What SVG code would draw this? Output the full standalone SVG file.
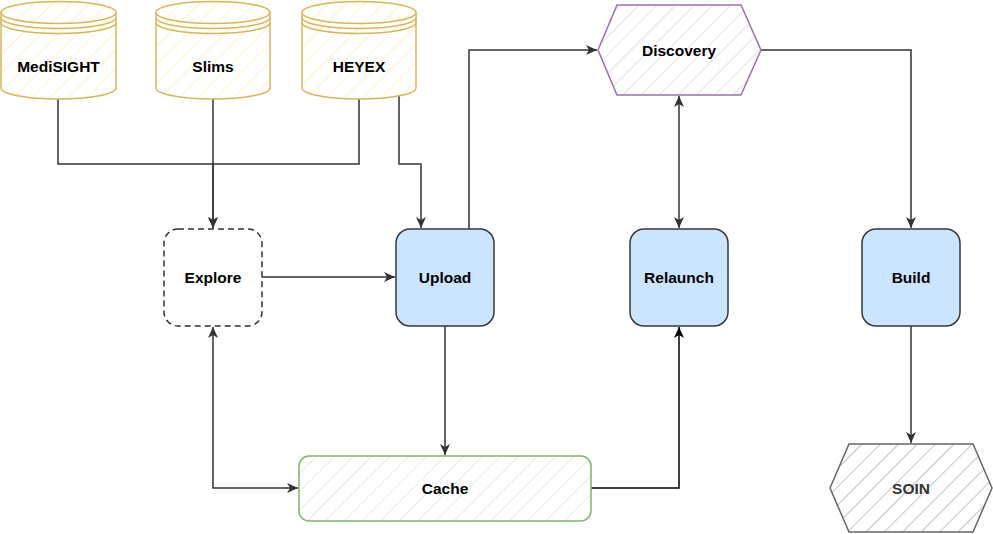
<svg xmlns="http://www.w3.org/2000/svg" width="993" height="534" viewBox="0 0 993 534">
<style>
.lbl{font-family:"Liberation Sans",Arial,sans-serif;font-weight:bold;font-size:15.5px;text-anchor:middle;dominant-baseline:central;fill:#000}
.edge{fill:none;stroke:#333333;stroke-width:1.5}
.db{stroke:#d6b656;stroke-width:1.5;fill:url(#hY)}
.dbl{stroke:#d6b656;stroke-width:1.5;fill:none}
.proc{fill:#cce5ff;stroke:#36393d;stroke-width:1.5}
</style>
<defs>
<pattern id="hY" patternUnits="userSpaceOnUse" width="13" height="13" patternTransform="rotate(45)"><line x1="0" y1="0" x2="0" y2="13" stroke="#ffeebb" stroke-width="1.5"/></pattern>
<pattern id="hP" patternUnits="userSpaceOnUse" width="13" height="13" patternTransform="rotate(45)"><line x1="0" y1="0" x2="0" y2="13" stroke="#e1d5e7" stroke-width="1.5"/></pattern>
<pattern id="hG" patternUnits="userSpaceOnUse" width="13" height="13" patternTransform="rotate(45)"><line x1="0" y1="0" x2="0" y2="13" stroke="#d5e8d4" stroke-width="1.5"/></pattern>
<pattern id="hS" patternUnits="userSpaceOnUse" width="13" height="13" patternTransform="rotate(45)"><line x1="0" y1="0" x2="0" y2="13" stroke="#999999" stroke-width="1.2"/></pattern>
<marker id="arr" markerUnits="userSpaceOnUse" markerWidth="13" markerHeight="11" refX="11" refY="5" orient="auto-start-reverse"><path d="M0,0 L11,5 L0,10 L3,5 Z" fill="#333333"/></marker>
<marker id="arrK" markerUnits="userSpaceOnUse" markerWidth="13" markerHeight="11" refX="11" refY="5" orient="auto-start-reverse"><path d="M0,0 L11,5 L0,10 L3,5 Z" fill="#000000"/></marker>
</defs>

<g id="connectors">
<path class="edge" d="M58,99 V164 H213 V228" marker-end="url(#arr)"/>
<path class="edge" d="M213,99 V228" marker-end="url(#arr)"/>
<path class="edge" d="M359,99 V164 H213"/>
<path class="edge" d="M399,95 V164 H421 V228" marker-end="url(#arr)"/>
<path class="edge" d="M262,277 H395" marker-end="url(#arr)"/>
<path class="edge" d="M469,229 V50 H597" marker-end="url(#arr)"/>
<path class="edge" d="M679,96 V228" marker-start="url(#arr)" marker-end="url(#arr)"/>
<path class="edge" d="M761,50 H911 V228" marker-end="url(#arr)"/>
<path class="edge" d="M911,326 V443" marker-end="url(#arr)"/>
<path class="edge" d="M445,326 V455" marker-end="url(#arr)"/>
<path class="edge" d="M213,327 V488 H298" marker-start="url(#arr)" marker-end="url(#arr)"/>
<path class="edge" style="stroke:#000" d="M591,488 H679 V327" marker-end="url(#arrK)"/>
</g>

<g id="MediSIGHT">
<path class="db" d="M1,12.5 A57.5,11 0 0 1 116,12.5 V88 A57.5,11 0 0 1 1,88 Z"/>
<path class="dbl" d="M1,12.5 A57.5,11 0 0 0 116,12.5"/>
<path class="dbl" d="M1,17.5 A57.5,11 0 0 0 116,17.5"/>
<path class="dbl" d="M1,22.5 A57.5,11 0 0 0 116,22.5"/>
<text class="lbl" x="58.5" y="66">MediSIGHT</text>
</g>
<g id="Slims">
<path class="db" d="M156,12.5 A57,11 0 0 1 270,12.5 V88 A57,11 0 0 1 156,88 Z"/>
<path class="dbl" d="M156,12.5 A57,11 0 0 0 270,12.5"/>
<path class="dbl" d="M156,17.5 A57,11 0 0 0 270,17.5"/>
<path class="dbl" d="M156,22.5 A57,11 0 0 0 270,22.5"/>
<text class="lbl" x="213" y="66">Slims</text>
</g>
<g id="HEYEX">
<path class="db" d="M302,12.5 A57,11 0 0 1 416,12.5 V88 A57,11 0 0 1 302,88 Z"/>
<path class="dbl" d="M302,12.5 A57,11 0 0 0 416,12.5"/>
<path class="dbl" d="M302,17.5 A57,11 0 0 0 416,17.5"/>
<path class="dbl" d="M302,22.5 A57,11 0 0 0 416,22.5"/>
<text class="lbl" x="359" y="66">HEYEX</text>
</g>

<g id="Explore">
<rect x="164" y="229" width="98" height="97" rx="14" fill="#ffffff" stroke="#333333" stroke-width="1.5" stroke-dasharray="6,4"/>
<text class="lbl" x="213" y="277">Explore</text>
</g>
<g id="Upload">
<rect class="proc" x="396" y="229" width="98" height="97" rx="14"/>
<text class="lbl" x="445" y="277">Upload</text>
</g>
<g id="Relaunch">
<rect class="proc" x="630" y="229" width="98" height="97" rx="14"/>
<text class="lbl" x="679" y="277">Relaunch</text>
</g>
<g id="Build">
<rect class="proc" x="862" y="229" width="98" height="97" rx="14"/>
<text class="lbl" x="911" y="277">Build</text>
</g>
<g id="Discovery">
<polygon points="598,50 617,5 741,5 761,50 741,95 617,95" fill="url(#hP)" stroke="#9673a6" stroke-width="1.5"/>
<text class="lbl" x="679" y="50">Discovery</text>
</g>
<g id="Cache">
<rect x="299" y="456" width="292" height="65" rx="10" fill="url(#hG)" stroke="#82b366" stroke-width="1.5"/>
<text class="lbl" x="445" y="488">Cache</text>
</g>
<g id="SOIN">
<polygon points="830,488 849,444 973,444 992,488 973,532 849,532" fill="url(#hS)" stroke="#666666" stroke-width="1.5"/>
<text class="lbl" x="911" y="488" style="fill:#333333">SOIN</text>
</g>
</svg>
